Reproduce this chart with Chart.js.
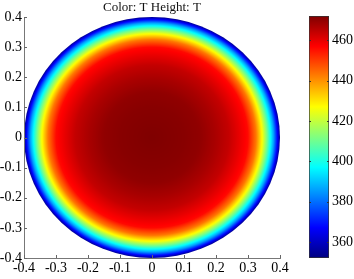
<!DOCTYPE html>
<html>
<head>
<meta charset="utf-8">
<script src="https://cdn.jsdelivr.net/npm/chart.js@4.4.1/dist/chart.umd.min.js"></script>
<style>
  html, body { margin: 0; padding: 0; background: #fff; }
  #wrap { position: relative; width: 354px; height: 279px; }
  #main { position: absolute; left: 0; top: 0; }
  #bar { position: absolute; left: 300px; top: 0; }
</style>
</head>
<body>
<div id="wrap">
  <canvas id="main" width="300" height="279"></canvas>
  <canvas id="bar" width="54" height="279"></canvas>
</div>
<script>
// radial temperature profile (disk is symmetric)
const radius = [0, 0.10, 0.15, 0.20, 0.24, 0.27, 0.30, 0.325, 0.345, 0.36, 0.37, 0.38, 0.39, 0.40];
const temperature = [472, 471, 470, 467, 464, 460, 456, 443, 426, 410, 398, 386, 370, 354];
const colorLimits = [352, 472];
const axisTicks = [-0.4, -0.3, -0.2, -0.1, 0, 0.1, 0.2, 0.3, 0.4];
const colorbarTicks = [360, 380, 400, 420, 440, 460];

const serif = '"Liberation Serif", "Times New Roman", serif';

// matlab jet colormap
function jet(f) {
    f = Math.max(0, Math.min(1, f));
    const c = v => Math.round(255 * Math.max(0, Math.min(1, v)));
    return 'rgb(' + c(1.5 - Math.abs(4 * f - 3)) + ',' + c(1.5 - Math.abs(4 * f - 2)) + ',' + c(1.5 - Math.abs(4 * f - 1)) + ')';
}

function tempAt(r) {
    for (let i = 1; i < radius.length; i++) {
        if (r <= radius[i]) {
            const t = (r - radius[i - 1]) / (radius[i] - radius[i - 1]);
            return temperature[i - 1] + t * (temperature[i] - temperature[i - 1]);
        }
    }
    return temperature[temperature.length - 1];
}

const diskPlugin = {
    id: 'disk',
    beforeDraw(chart) {
        const {ctx, scales: {x, y}} = chart;
        const R = radius[radius.length - 1];
        const cx = x.getPixelForValue(0), cy = y.getPixelForValue(0);
        const rx = x.getPixelForValue(R) - cx;
        const ry = cy - y.getPixelForValue(R);
        ctx.save();
        ctx.translate(cx, cy);
        ctx.scale(1, ry / rx);
        const g = ctx.createRadialGradient(0, 0, 0, 0, 0, rx);
        const steps = 160;
        for (let i = 0; i <= steps; i++) {
            const r = R * i / steps;
            const f = (tempAt(r) - colorLimits[0]) / (colorLimits[1] - colorLimits[0]);
            g.addColorStop(i / steps, jet(f));
        }
        ctx.fillStyle = g;
        ctx.beginPath();
        ctx.arc(0, 0, rx, 0, Math.PI * 2);
        ctx.fill();
        ctx.restore();
    }
};

// matlab style ticks pointing into the axes
const innerTicks = {
    id: 'innerTicks',
    afterDraw(chart) {
        const {ctx, chartArea: a, scales: {x, y}} = chart;
        ctx.save();
        ctx.strokeStyle = '#666';
        ctx.lineWidth = 1;
        ctx.beginPath();
        x.ticks.forEach((t, i) => {
            const px = Math.round(x.getPixelForTick(i)) + 0.5;
            ctx.moveTo(px, a.bottom); ctx.lineTo(px, a.bottom - 3);
        });
        y.ticks.forEach((t, i) => {
            const py = Math.round(y.getPixelForTick(i)) + 0.5;
            ctx.moveTo(a.left, py); ctx.lineTo(a.left + 3, py);
        });
        ctx.stroke();
        ctx.restore();
    }
};

const fmt = v => (v === 0 ? '0' : v.toFixed(1));

new Chart(document.getElementById('main'), {
    type: 'scatter',
    data: { datasets: [] },
    options: {
        responsive: false,
        animation: false,
        layout: { padding: { left: 0, right: 20, top: 0, bottom: 0 } },
        plugins: {
            legend: { display: false },
            tooltip: { enabled: false },
            title: {
                display: true,
                text: 'Color: T Height: T',
                fullSize: false,
                color: '#111',
                font: { family: serif, size: 13, weight: 'normal', lineHeight: 1.2 },
                padding: { top: 0, bottom: 1.4 }
            }
        },
        scales: {
            x: {
                type: 'linear', min: -0.4, max: 0.4,
                afterBuildTicks: s => { s.ticks = axisTicks.map(v => ({value: v})); },
                afterFit: s => { s.height = 21; },
                grid: { display: false, drawTicks: false },
                border: { display: true, color: '#777' },
                ticks: { color: '#000', padding: 2, maxRotation: 0, font: { family: serif, size: 14 }, callback: fmt }
            },
            y: {
                type: 'linear', min: -0.4, max: 0.4,
                afterBuildTicks: s => { s.ticks = axisTicks.map(v => ({value: v})); },
                afterFit: s => { s.width = 24; },
                grid: { display: false, drawTicks: false },
                border: { display: true, color: '#777' },
                ticks: { color: '#000', padding: 2, font: { family: serif, size: 14 }, callback: fmt }
            }
        }
    },
    plugins: [diskPlugin, innerTicks]
});

// colorbar as a single floating bar filled with the colormap
const barTicks = {
    id: 'barTicks',
    afterDraw(chart) {
        const {ctx, chartArea: a, scales: {y}} = chart;
        ctx.save();
        ctx.strokeStyle = '#333';
        ctx.beginPath();
        y.ticks.forEach((t, i) => {
            const py = Math.round(y.getPixelForTick(i)) + 0.5;
            ctx.moveTo(a.right, py); ctx.lineTo(a.right - 2, py);
            ctx.moveTo(a.left, py); ctx.lineTo(a.left + 2, py);
        });
        ctx.stroke();
        ctx.restore();
    }
};

new Chart(document.getElementById('bar'), {
    type: 'bar',
    data: {
        labels: [''],
        datasets: [{
            data: [[colorLimits[0], colorLimits[1]]],
            barPercentage: 1,
            categoryPercentage: 1,
            borderWidth: 1,
            borderColor: '#333',
            borderSkipped: false,
            backgroundColor: function(context) {
                const {chart} = context;
                const y = chart.scales.y;
                if (!chart.chartArea || !y) return '#800';
                const g = chart.ctx.createLinearGradient(0, y.getPixelForValue(colorLimits[0]), 0, y.getPixelForValue(colorLimits[1]));
                for (let i = 0; i <= 8; i++) g.addColorStop(i / 8, jet(i / 8));
                return g;
            }
        }]
    },
    options: {
        responsive: false,
        animation: false,
        layout: { padding: { left: 9, right: 0, top: 16, bottom: 21 } },
        plugins: { legend: { display: false }, tooltip: { enabled: false } },
        scales: {
            x: { display: false },
            y: {
                position: 'right',
                min: colorLimits[0], max: colorLimits[1],
                afterBuildTicks: s => { s.ticks = colorbarTicks.map(v => ({value: v})); },
                afterFit: s => { s.width = 25; },
                grid: { display: false, drawTicks: false },
                border: { display: false },
                ticks: { color: '#000', padding: 3, font: { family: serif, size: 14 } }
            }
        }
    },
    plugins: [barTicks]
});
</script>
</body>
</html>
